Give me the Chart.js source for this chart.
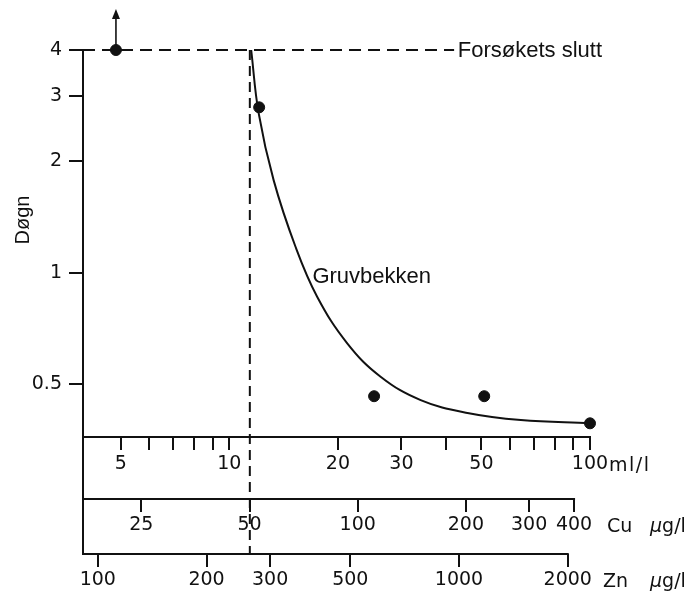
<!DOCTYPE html>
<html lang="no">
<head>
<meta charset="UTF-8">
<title>Døgn – Gruvbekken</title>
<script src="https://cdn.jsdelivr.net/npm/chart.js@4"></script>
<style>
  html, body { margin: 0; background: #fff; }
  .chart-box { width: 691px; height: 593px; position: relative; }
</style>
</head>
<body>
<div class="chart-box"><canvas id="doseChart"></canvas></div>
<script>
// tick values for the three concentration scales and the day axis
const mlTicks = [5, 6, 7, 8, 9, 10, 20, 30, 40, 50, 60, 70, 80, 90, 100];
const mlLabeled = [5, 10, 20, 30, 50, 100];
const cuTicks = [25, 50, 100, 200, 300, 400];
const znTicks = [100, 200, 300, 500, 1000, 2000];
const dayTicks = [0.5, 1, 2, 3, 4];

// measured survival times (ml/l, døgn)
const obsConc = [4.85, 12.1, 25.2, 50.9, 100];
const obsDays = [4, 2.8, 0.464, 0.464, 0.392];

// fitted curve for Gruvbekken
const curveConc = [11.5, 12.06, 13.27, 15.26, 17.52, 21.23, 26.27, 33.93, 45.74, 64.3, 100];
const curveDays = [4.0, 2.70, 1.78, 1.176, 0.862, 0.645, 0.524, 0.453, 0.418, 0.400, 0.392];

const endOfTest = 4;      // Forsøkets slutt
const thresholdMl = 11.4; // limit, about 50 µg/l Cu

// axis ranges (Cu and Zn follow the ml/l scale)
const mlRange = [3.93, 100];
const cuRange = [17.2, 443];
const znRange = [91, 2305];
const dayRange = [0.36, 4];

const ink = '#111';
const tickFont = { family: 'DejaVu Sans', size: 19 };
const textFont = '22px "Liberation Sans", Arial, sans-serif';

function bottomAxis(range, ticks, label, weight, height, pad, border) {
  return {
    type: 'logarithmic', position: 'bottom', axis: 'x', weight,
    min: range[0], max: range[1],
    afterBuildTicks: s => { s.ticks = ticks.map(v => ({ value: v })); },
    afterFit: s => { s.height = height; },
    grid: { drawOnChartArea: false, tickLength: 13, color: ink, lineWidth: 2 },
    border: { display: border, color: ink, width: 2 },
    ticks: { autoSkip: false, maxRotation: 0, minRotation: 0, padding: pad, color: ink, font: tickFont, callback: label }
  };
}

function seg(ctx, x1, y1, x2, y2) {
  ctx.beginPath();
  ctx.moveTo(x1, y1);
  ctx.lineTo(x2, y2);
  ctx.stroke();
}

// frame lines, dashed limits, arrow and text
const extras = {
  id: 'extras',
  afterDraw(chart) {
    const { ctx, chartArea: a, scales: { x, y, cu, zn } } = chart;
    ctx.save();
    ctx.strokeStyle = ink;
    ctx.fillStyle = ink;
    ctx.lineWidth = 2;

    seg(ctx, a.left, a.bottom, a.left, Math.round(zn.top) + 1);
    seg(ctx, a.left, Math.round(cu.top), cu.getPixelForValue(cuTicks[cuTicks.length - 1]) + 1, Math.round(cu.top));
    seg(ctx, a.left, Math.round(zn.top), zn.getPixelForValue(znTicks[znTicks.length - 1]) + 1, Math.round(zn.top));

    // dashed lines
    const yEnd = y.getPixelForValue(endOfTest);
    const xLim = x.getPixelForValue(thresholdMl);
    ctx.setLineDash([12, 7]);
    seg(ctx, a.left, yEnd, x.getPixelForValue(42), yEnd);
    ctx.setLineDash([10, 6]);
    seg(ctx, xLim, yEnd, xLim, Math.round(zn.top));
    ctx.setLineDash([]);

    // arrow above the first point: still alive at end of test
    const px = x.getPixelForValue(obsConc[0]);
    const py = y.getPixelForValue(obsDays[0]);
    ctx.lineWidth = 1.6;
    seg(ctx, px, py - 5, px, py - 32);
    ctx.beginPath();
    ctx.moveTo(px, py - 41);
    ctx.lineTo(px - 4, py - 31);
    ctx.lineTo(px + 4, py - 31);
    ctx.closePath();
    ctx.fill();

    // annotations
    ctx.font = textFont;
    ctx.textAlign = 'left';
    ctx.textBaseline = 'alphabetic';
    ctx.fillText('Forsøkets slutt', x.getPixelForValue(43), yEnd + 7);
    ctx.fillText('Gruvbekken', x.getPixelForValue(17), y.getPixelForValue(0.94));

    // unit labels
    ctx.font = '19px "DejaVu Sans"';
    ctx.letterSpacing = '1.5px';
    ctx.fillText('ml/l', x.right + 19, x.top + 34);
    ctx.letterSpacing = '0px';
    ctx.fillText('Cu', cu.right + 17, cu.top + 33);
    ctx.fillText('Zn', zn.right + 13, zn.top + 33);
    [cu, zn].forEach(s => {
      ctx.font = 'italic 19px "DejaVu Sans"';
      ctx.fillText('µ', s.right + 60, s.top + 33);
      const w = ctx.measureText('µ').width;
      ctx.font = '19px "DejaVu Sans"';
      ctx.fillText('g/l', s.right + 60 + w, s.top + 33);
    });

    // y axis title
    ctx.translate(a.left - 60, a.top + 170);
    ctx.rotate(-Math.PI / 2);
    ctx.textAlign = 'center';
    ctx.textBaseline = 'middle';
    ctx.font = '20px "Liberation Sans", Arial, sans-serif';
    ctx.fillText('Døgn', 0, 0);
    ctx.restore();
  }
};

new Chart(document.getElementById('doseChart'), {
  type: 'scatter',
  data: {
    datasets: [
      {
        label: 'Gruvbekken',
        type: 'line',
        data: curveConc.map((c, i) => ({ x: c, y: curveDays[i] })),
        borderColor: ink,
        borderWidth: 2,
        pointRadius: 0,
        tension: 0.4,
        clip: false
      },
      {
        label: 'Forsøk',
        data: obsConc.map((c, i) => ({ x: c, y: obsDays[i] })),
        backgroundColor: ink,
        borderColor: ink,
        pointRadius: 5.5,
        clip: false
      }
    ]
  },
  options: {
    responsive: true,
    maintainAspectRatio: false,
    animation: false,
    layout: { padding: { top: 50, right: 101, bottom: 0, left: 0 } },
    plugins: { legend: { display: false }, tooltip: { enabled: false } },
    scales: {
      x: bottomAxis(mlRange, mlTicks, v => mlLabeled.includes(v) ? String(v) : '', 0, 62, 3, true),
      cu: bottomAxis(cuRange, cuTicks, v => String(v), 1, 55, 2, false),
      zn: bottomAxis(znRange, znTicks, v => String(v), 2, 39, 2, false),
      y: {
        type: 'logarithmic',
        position: 'left',
        min: dayRange[0],
        max: dayRange[1],
        afterBuildTicks: s => { s.ticks = dayTicks.map(v => ({ value: v })); },
        afterFit: s => { s.width = 83; },
        grid: { drawOnChartArea: false, tickLength: 14, color: ink, lineWidth: 2 },
        border: { display: true, color: ink, width: 2 },
        ticks: { padding: 7, color: ink, font: tickFont, callback: v => String(v) }
      }
    }
  },
  plugins: [extras]
});
</script>
</body>
</html>
